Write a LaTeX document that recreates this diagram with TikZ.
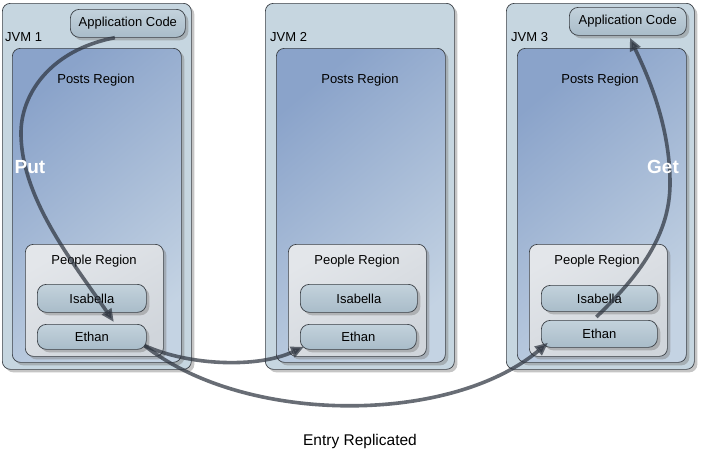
\documentclass[tikz,border=0pt]{standalone}
\usepackage{fontspec}
\setmainfont{Liberation Sans}
\usetikzlibrary{shadows,arrows.meta,calc}
\definecolor{edge}{HTML}{3A3F45}
\definecolor{jvmfill}{HTML}{C6D6E0}
\definecolor{postsA}{HTML}{8AA3CA}
\definecolor{postsB}{HTML}{C4D3E3}
\definecolor{peopleA}{HTML}{E3E6EA}
\definecolor{peopleB}{HTML}{D0D5DB}
\definecolor{itemA}{HTML}{C3D2DC}
\definecolor{itemB}{HTML}{A9BCC9}
\definecolor{arrowc}{HTML}{2E3540}
\begin{document}
\begin{tikzpicture}[x=1pt,y=-1pt,
  lbl/.style={font=\fontsize{13}{15}\selectfont, inner sep=0pt},
  box/.style={draw=edge, line width=0.7pt, rounded corners=8pt, inner sep=0pt, anchor=north west,
    drop shadow={shadow xshift=3pt,shadow yshift=-3pt,opacity=0.45}},
  jvm/.style={box, fill=jvmfill},
  posts/.style={box, top color=postsA, bottom color=postsB, shading angle=40},
  people/.style={box, top color=peopleA, bottom color=peopleB, shading angle=30},
  item/.style={box, top color=itemA, bottom color=itemB, rounded corners=9pt, lbl},
  flow/.style={draw=arrowc, line width=3.6pt, opacity=0.72, -{Triangle[length=13pt,width=11pt]}},
  verb/.style={font=\fontsize{19}{22}\selectfont\bfseries, text=white, inner sep=0pt}]
\useasboundingbox[fill=white] (0,0) rectangle (701,455);

% ---------- JVM 1 ----------
\node[jvm, minimum width=189pt, minimum height=366pt] (jvm1) at (2,3) {};
\node[lbl, anchor=west] (jvm1l) at (5,37) {JVM 1};
\node[item, minimum width=115pt, minimum height=28pt] (app1) at (70,9) {Application Code};
\node[posts, minimum width=169pt, minimum height=314pt] (posts1) at (12,48) {};
\node[lbl] (posts1l) at (96,80) {Posts Region};
\node[people, minimum width=138pt, minimum height=112pt] (people1) at (25,244) {};
\node[lbl] (people1l) at (94,261) {People Region};
\node[item, minimum width=109pt, minimum height=28pt] (isa1) at (37,284) {Isabella};
\node[item, minimum width=109pt, minimum height=25pt] (eth1) at (37,324) {Ethan};

% ---------- JVM 2 ----------
\node[jvm, minimum width=189pt, minimum height=366pt] (jvm2) at (265,3) {};
\node[lbl, anchor=west] (jvm2l) at (270,37) {JVM 2};
\node[posts, minimum width=169pt, minimum height=314pt] (posts2) at (276,48) {};
\node[lbl] (posts2l) at (360,80) {Posts Region};
\node[people, minimum width=138pt, minimum height=112pt] (people2) at (288,244) {};
\node[lbl] (people2l) at (357,261) {People Region};
\node[item, minimum width=117pt, minimum height=28pt] (isa2) at (300,284) {Isabella};
\node[item, minimum width=116pt, minimum height=25pt] (eth2) at (300,324) {Ethan};

% ---------- JVM 3 ----------
\node[jvm, minimum width=188pt, minimum height=366pt] (jvm3) at (506,3) {};
\node[lbl, anchor=west] (jvm3l) at (511,37) {JVM 3};
\node[item, minimum width=117pt, minimum height=28pt] (app3) at (569,7) {Application Code};
\node[posts, minimum width=169pt, minimum height=314pt] (posts3) at (517,48) {};
\node[lbl] (posts3l) at (600,80) {Posts Region};
\node[people, minimum width=138pt, minimum height=112pt] (people3) at (529,244) {};
\node[lbl] (people3l) at (597,261) {People Region};
\node[item, minimum width=116pt, minimum height=26pt] (isa3) at (541,285) {Isabella};
\node[item, minimum width=116pt, minimum height=27pt] (eth3) at (541,320) {Ethan};

% ---------- flows ----------
\draw[flow] ($(app1.south)+(-13,0)$) .. controls (50,50) and (20,95) .. (21,135)
  .. controls (22,200) and (75,265) .. ($(eth1.north)+(22,-2)$);
\draw[flow] ($(eth1.south east)+(-2,-4)$) .. controls (190,366) and (258,368) .. ($(eth2.south west)+(4,-3)$);
\draw[flow] ($(eth1.south east)+(-2,-4)$) .. controls (245,425) and (450,425) .. ($(eth3.south west)+(7,-5)$);
\draw[flow] ($(eth3.north)+(-3,-3)$) .. controls (645,270) and (671,230) .. (670,180)
  .. controls (669,120) and (645,70) .. ($(app3.south)+(2,2)$);

\node[verb] (put) at (30,167) {Put};
\node[verb] (get) at (663,167) {Get};

\node[font=\fontsize{15.5}{18}\selectfont, inner sep=0pt] (cap) at (360,441) {Entry Replicated};
\end{tikzpicture}
\end{document}
